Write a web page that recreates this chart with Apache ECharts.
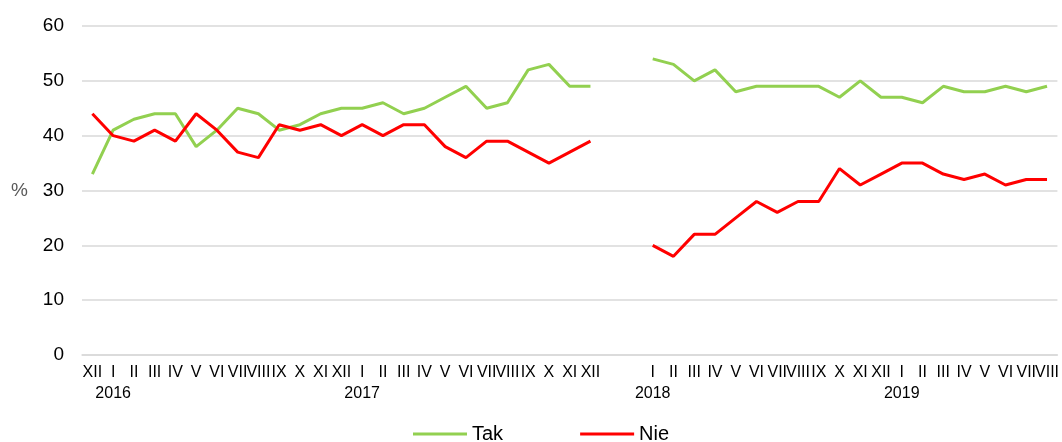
<!DOCTYPE html>
<html>
<head>
<meta charset="utf-8">
<script src="https://cdn.jsdelivr.net/npm/echarts@6/dist/echarts.min.js"></script>
<style>
  html, body { margin: 0; padding: 0; background: #fff; }
  #chart { width: 1062px; height: 442px; }
</style>
</head>
<body>
<div id="chart"></div>
<script>
// XII 2015 .. XII 2017, two empty slots, I 2018 .. VIII 2019
const monthLabels = [
  'XII', 'I', 'II', 'III', 'IV', 'V', 'VI', 'VII', 'VIII', 'IX', 'X', 'XI', 'XII',
  'I', 'II', 'III', 'IV', 'V', 'VI', 'VII', 'VIII', 'IX', 'X', 'XI', 'XII',
  '', '',
  'I', 'II', 'III', 'IV', 'V', 'VI', 'VII', 'VIII', 'IX', 'X', 'XI', 'XII',
  'I', 'II', 'III', 'IV', 'V', 'VI', 'VII', 'VIII'
]
const yearLabels = [
  '', '2016', '', '', '', '', '', '', '', '', '', '', '',
  '2017', '', '', '', '', '', '', '', '', '', '', '',
  '', '',
  '2018', '', '', '', '', '', '', '', '', '', '', '',
  '2019', '', '', '', '', '', '', ''
]
const tak = [
  33, 41, 43, 44, 44, 38, 41, 45, 44, 41, 42, 44, 45,
  45, 46, 44, 45, 47, 49, 45, 46, 52, 53, 49, 49,
  '-', '-',
  54, 53, 50, 52, 48, 49, 49, 49, 49, 47, 50, 47,
  47, 46, 49, 48, 48, 49, 48, 49
]
const nie = [
  44, 40, 39, 41, 39, 44, 41, 37, 36, 42, 41, 42, 40,
  42, 40, 42, 42, 38, 36, 39, 39, 37, 35, 37, 39,
  '-', '-',
  20, 18, 22, 22, 25, 28, 26, 28, 28, 34, 31, 33,
  35, 35, 33, 32, 33, 31, 32, 32
]
const yTicks = { min : 0, max : 60, interval : 10 }

const chart = echarts.init( document.getElementById( 'chart' ) )
const font = 'Liberation Sans, Arial, sans-serif'

chart.setOption( {
  animation : false,
  backgroundColor : '#fff',
  textStyle : { fontFamily : font },
  grid : {
    left : 82,
    right : 1,
    top : 26,
    bottom : 87,
    containLabel : false
  },
  legend : {
    top : 424,
    left : 413,
    padding : 0,
    icon : 'rect',
    itemWidth : 54,
    itemHeight : 3,
    itemGap : 77,
    textStyle : { fontSize : 20, color : '#000', fontFamily : font },
    data : ['Tak', 'Nie']
  },
  xAxis : {
    type : 'category',
    boundaryGap : true,
    data : monthLabels,
    axisLine : { show : true, lineStyle : { color : '#D9D9D9', width : 1.5 } },
    axisTick : { show : false },
    axisLabel : {
      interval : 0,
      hideOverlap : false,
      margin : 7,
      color : '#000',
      fontSize : 16,
      lineHeight : 21,
      fontFamily : font,
      formatter : ( v, i ) => v + '\n' + yearLabels[i]
    },
    splitLine : { show : false }
  },
  yAxis : {
    type : 'value',
    min : yTicks.min,
    max : yTicks.max,
    interval : yTicks.interval,
    name : '%',
    nameLocation : 'middle',
    nameRotate : 0,
    nameGap : 54,
    nameTextStyle : { fontSize : 19, color : '#595959', fontFamily : font },
    axisLine : { show : false },
    axisTick : { show : false },
    axisLabel : { color : '#000', fontSize : 19, margin : 18, fontFamily : font },
    splitLine : { lineStyle : { color : '#D9D9D9', width : 1.5 } }
  },
  series : [
    {
      name : 'Tak',
      type : 'line',
      data : tak,
      symbol : 'none',
      connectNulls : false,
      lineStyle : { color : '#92D050', width : 3 },
      itemStyle : { color : '#92D050' }
    },
    {
      name : 'Nie',
      type : 'line',
      data : nie,
      symbol : 'none',
      connectNulls : false,
      lineStyle : { color : '#FF0000', width : 3 },
      itemStyle : { color : '#FF0000' }
    }
  ]
} )
</script>
</body>
</html>
